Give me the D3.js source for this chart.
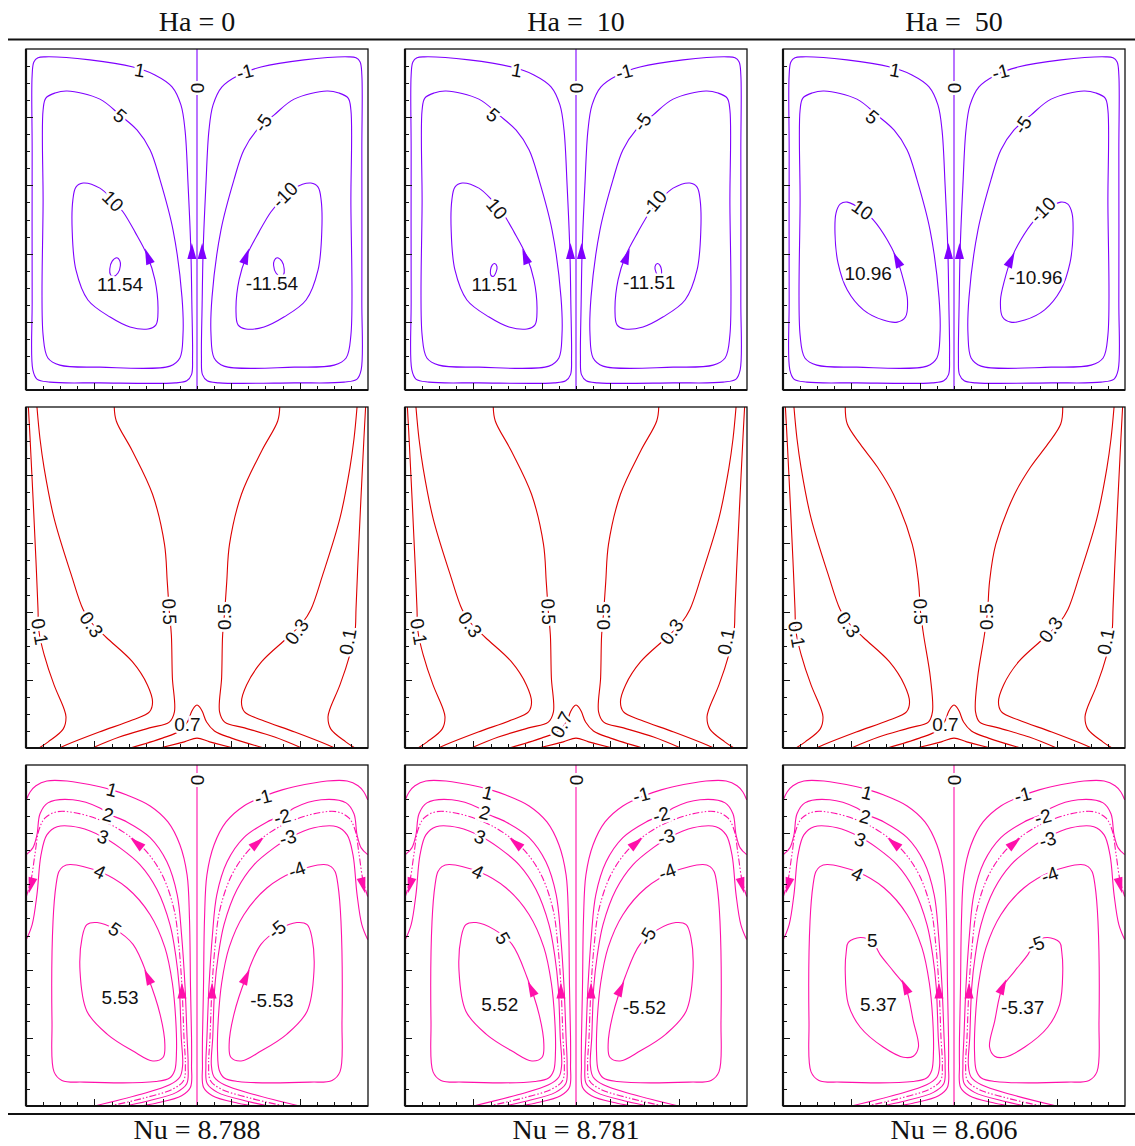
<!DOCTYPE html>
<html lang="en">
<head>
<meta charset="UTF-8">
<title>Streamlines, isotherms and heatlines</title>
<style>
  body, html { margin: 0; padding: 0; background: #fff; }
  svg { display: block; }
  .head { font-family: "Liberation Serif", "Times New Roman", serif; font-size: 28px; fill: #111; white-space: pre; }
  .clabel { font-family: "Liberation Sans", Arial, sans-serif; font-size: 19px; fill: #111;
            stroke: #fff; stroke-width: 5px; paint-order: stroke; stroke-linejoin: round; }
  .axis line { stroke: #111; shape-rendering: crispEdges; }
</style>
</head>
<body>
<svg width="1135" height="1146"></svg>
<script src="https://d3js.org/d3.v7.min.js"></script>
<script>
// ---- headings ----
const headers = ["Ha = 0", "Ha =  10", "Ha =  50"];
const nusselt = ["Nu = 8.788", "Nu = 8.781", "Nu = 8.606"];

const majorTicks = [0.2, 0.4, 0.6, 0.8];
const minorTicks = [0.05, 0.1, 0.15, 0.25, 0.3, 0.35, 0.45, 0.5, 0.55, 0.65, 0.7, 0.75, 0.85, 0.9, 0.95];

// ---- row 1: streamlines (left cell, right cell is its mirror) ----
const psiOne = [[0.056,0.977],[0.187,0.968],[0.313,0.947],[0.377,0.924],[0.427,0.889],[0.453,0.836],[0.465,0.762],[0.474,0.6],[0.482,0.41],[0.485,0.25],[0.487,0.1],[0.484,0.045],[0.47,0.027],[0.436,0.021],[0.216,0.021],[0.07,0.023],[0.032,0.032],[0.02,0.059],[0.018,0.264],[0.018,0.704],[0.018,0.924],[0.023,0.962],[0.035,0.974]];
const psiFive = [[0.085,0.871],[0.120,0.877],[0.216,0.853],[0.275,0.806],[0.325,0.762],[0.363,0.704],[0.392,0.616],[0.430,0.469],[0.456,0.273],[0.459,0.161],[0.450,0.094],[0.421,0.070],[0.216,0.067],[0.099,0.073],[0.064,0.094],[0.050,0.161],[0.050,0.557],[0.050,0.821],[0.058,0.856]];
const psiTenA = [[0.167,0.607],[0.216,0.592],[0.254,0.557],[0.284,0.522],[0.319,0.463],[0.354,0.396],[0.377,0.323],[0.386,0.235],[0.380,0.191],[0.357,0.179],[0.304,0.185],[0.246,0.214],[0.181,0.264],[0.146,0.352],[0.135,0.469],[0.137,0.557],[0.146,0.595]];
const psiTenC = [[0.188,0.551],[0.232,0.528],[0.264,0.499],[0.305,0.440],[0.334,0.381],[0.352,0.323],[0.364,0.264],[0.358,0.214],[0.334,0.199],[0.293,0.205],[0.235,0.235],[0.188,0.293],[0.161,0.372],[0.152,0.460],[0.155,0.519],[0.167,0.545]];
const psiCoreA = [[0.266,0.388],[0.274,0.38],[0.276,0.365],[0.269,0.343],[0.256,0.333],[0.247,0.338],[0.245,0.355],[0.252,0.378]];
const psiCoreB = [[0.262,0.371],[0.269,0.362],[0.266,0.345],[0.258,0.333],[0.251,0.337],[0.250,0.352],[0.255,0.366]];
const centreLine = [[0.5,0],[0.5,1]];

const psiLabels = [
  [["1",0.333,0.938,10],["5",0.275,0.804,40],["10",0.254,0.554,45],["0",0.5,0.886,-90],["11.54",0.275,0.308,0],
   ["-1",0.640,0.933,-15],["-5",0.693,0.783,-55],["-10",0.757,0.572,-45],["-11.54",0.719,0.311,0]],
  [["1",0.327,0.938,10],["5",0.257,0.806,40],["10",0.268,0.531,50],["0",0.5,0.886,-90],["11.51",0.262,0.308,0],
   ["-1",0.641,0.933,-15],["-5",0.694,0.786,-55],["-10",0.729,0.548,-50],["-11.51",0.714,0.314,0]],
  [["1",0.328,0.938,10],["5",0.261,0.800,40],["10",0.232,0.528,35],["0",0.5,0.886,-90],["10.96",0.249,0.343,0],
   ["-1",0.636,0.933,-15],["-5",0.701,0.777,-55],["-10",0.760,0.528,-45],["-10.96",0.739,0.331,0]]
];
// arrows on the left cell: [x, y, angle], mirrored for the right cell
const psiArrows = [
  [[0.357,0.39,-20],[0.485,0.405,0]],
  [[0.352,0.39,-20],[0.484,0.405,0]],
  [[0.334,0.38,-25],[0.484,0.405,0]]
];

// ---- row 2: isotherms ----
const tOne = [[0.007,1.0],[0.012,0.906],[0.021,0.724],[0.029,0.553],[0.035,0.409],[0.038,0.341],[0.053,0.274],[0.082,0.185],[0.111,0.115],[0.117,0.091],[0.109,0.056],[0.065,0.018],[0.038,0.0]];
const tThree = [[0.032,1.0],[0.041,0.906],[0.053,0.821],[0.082,0.674],[0.132,0.509],[0.167,0.406],[0.191,0.368],[0.235,0.324],[0.311,0.253],[0.355,0.185],[0.370,0.135],[0.361,0.106],[0.311,0.082],[0.214,0.047],[0.117,0.009],[0.097,0.0]];
const tFiveA = [[0.258,1.0],[0.264,0.959],[0.311,0.871],[0.370,0.744],[0.405,0.597],[0.413,0.488],[0.419,0.4],[0.425,0.332],[0.428,0.206],[0.434,0.106],[0.419,0.076],[0.361,0.059],[0.273,0.032],[0.194,0.0]];
const tFiveC = [[0.182,1.0],[0.188,0.95],[0.226,0.891],[0.276,0.824],[0.323,0.744],[0.378,0.597],[0.396,0.488],[0.402,0.4],[0.411,0.332],[0.431,0.206],[0.437,0.106],[0.425,0.076],[0.37,0.059],[0.28,0.032],[0.2,0.0]];
const tSeven = [[0.305,0],[0.399,0.029],[0.449,0.05],[0.472,0.076],[0.484,0.106],[0.492,0.12],[0.5,0.126],[0.508,0.12],[0.516,0.106],[0.528,0.076],[0.551,0.05],[0.601,0.029],[0.695,0]];
const tNine = [[0.39,0],[0.463,0.018],[0.5,0.029],[0.537,0.018],[0.607,0]];

const tLabels = [
  [["0.1",0.040,0.341,80],["0.3",0.191,0.362,55],["0.5",0.419,0.4,88],["0.7",0.472,0.068,0],["0.5",0.58,0.385,-90],["0.3",0.792,0.341,-55],["0.1",0.941,0.312,-80]],
  [["0.1",0.040,0.341,80],["0.3",0.19,0.362,55],["0.5",0.419,0.4,88],["0.7",0.458,0.068,-62],["0.5",0.58,0.385,-90],["0.3",0.78,0.341,-55],["0.1",0.939,0.312,-80]],
  [["0.1",0.040,0.333,80],["0.3",0.191,0.362,55],["0.5",0.402,0.4,88],["0.7",0.475,0.068,0],["0.5",0.595,0.385,-90],["0.3",0.783,0.347,-55],["0.1",0.944,0.312,-80]]
];

// ---- row 3: heatlines (left cell, mirrored for the right cell) ----
const hOne = [[0.001,0.898],[0.012,0.921],[0.029,0.939],[0.061,0.953],[0.120,0.953],[0.216,0.936],[0.251,0.927],[0.295,0.912],[0.363,0.880],[0.415,0.833],[0.450,0.766],[0.471,0.678],[0.478,0.55],[0.481,0.35],[0.484,0.2],[0.484,0.12],[0.481,0.055],[0.455,0.03],[0.38,0.008],[0.335,0.0]];
const hTwo = [[0.001,0.737],[0.020,0.757],[0.032,0.795],[0.041,0.857],[0.064,0.889],[0.137,0.898],[0.216,0.874],[0.240,0.857],[0.295,0.833],[0.363,0.787],[0.412,0.716],[0.442,0.620],[0.455,0.5],[0.465,0.35],[0.471,0.2],[0.474,0.12],[0.47,0.065],[0.44,0.04],[0.35,0.013],[0.29,0.0]];
const hDash = [[0.001,0.614],[0.015,0.664],[0.026,0.737],[0.038,0.810],[0.056,0.845],[0.091,0.863],[0.143,0.860],[0.216,0.839],[0.284,0.804],[0.348,0.751],[0.398,0.678],[0.433,0.576],[0.447,0.47],[0.456,0.35],[0.462,0.2],[0.466,0.12],[0.461,0.075],[0.43,0.05],[0.34,0.022],[0.245,0.0]];
const hThree = [[0.001,0.488],[0.018,0.532],[0.032,0.620],[0.044,0.737],[0.061,0.795],[0.091,0.819],[0.158,0.816],[0.225,0.789],[0.275,0.757],[0.333,0.708],[0.383,0.635],[0.421,0.532],[0.438,0.44],[0.448,0.35],[0.454,0.2],[0.458,0.12],[0.45,0.085],[0.42,0.062],[0.33,0.033],[0.2,0.0]];
const hFour = [[0.108,0.702],[0.129,0.708],[0.216,0.687],[0.295,0.640],[0.363,0.561],[0.406,0.465],[0.428,0.36],[0.438,0.25],[0.44,0.16],[0.435,0.105],[0.42,0.082],[0.38,0.072],[0.17,0.07],[0.105,0.075],[0.082,0.1],[0.076,0.249],[0.079,0.541],[0.088,0.649],[0.096,0.687]];
const hFiveA = [[0.178,0.532],[0.208,0.538],[0.260,0.518],[0.313,0.474],[0.357,0.377],[0.392,0.269],[0.406,0.181],[0.401,0.143],[0.371,0.132],[0.313,0.161],[0.237,0.211],[0.178,0.278],[0.158,0.395],[0.164,0.494]];
const hFiveC = [[0.191,0.480],[0.226,0.494],[0.261,0.482],[0.284,0.444],[0.323,0.395],[0.358,0.348],[0.381,0.249],[0.396,0.173],[0.381,0.146],[0.352,0.143],[0.293,0.173],[0.226,0.231],[0.191,0.298],[0.182,0.395],[0.185,0.453]];

const hLabels = [
  [["0",0.5,0.956,-90],["1",0.251,0.927,15],["2",0.240,0.854,15],["3",0.225,0.789,20],["4",0.216,0.687,25],["5",0.260,0.518,35],["5.53",0.275,0.319,0],
   ["-1",0.693,0.906,-15],["-2",0.749,0.848,-15],["-3",0.766,0.787,-15],["-4",0.792,0.693,-20],["-5",0.734,0.518,-40],["-5.53",0.719,0.31,0]],
  [["0",0.5,0.956,-90],["1",0.242,0.918,15],["2",0.233,0.860,15],["3",0.219,0.789,20],["4",0.213,0.687,25],["5",0.286,0.492,60],["5.52",0.277,0.298,0],
   ["-1",0.691,0.912,-15],["-2",0.749,0.854,-15],["-3",0.764,0.789,-15],["-4",0.767,0.687,-20],["-5",0.708,0.497,-60],["-5.52",0.700,0.289,0]],
  [["0",0.5,0.956,-90],["1",0.246,0.918,15],["2",0.240,0.848,15],["3",0.226,0.781,20],["4",0.217,0.680,25],["5",0.261,0.485,0],["5.37",0.279,0.298,0],
   ["-1",0.701,0.912,-15],["-2",0.760,0.848,-15],["-3",0.774,0.781,-15],["-4",0.780,0.678,-20],["-5",0.739,0.474,-20],["-5.37",0.701,0.289,0]]
];
const hArrows = [
  [[0.357,0.377,-25],[0.325,0.77,-50],[0.456,0.336,0],[0.015,0.649,195]],
  [[0.370,0.342,-25],[0.325,0.77,-50],[0.456,0.336,0],[0.015,0.649,195]],
  [[0.358,0.348,-25],[0.325,0.77,-50],[0.456,0.336,0],[0.015,0.649,195]]
];

// ---- layout ----
const svg = d3.select("svg");
const colLeft = [26, 405, 783];
const rowTop = [49, 407, 765];
const W = 342, H = 341;
const colors = ["#7f00ff", "#dd0000", "#ff10aa"];

function rowSpec(r, c) {
  if (r === 0) return {
    lines: [
      { pts: psiOne, closed: true, mirror: true },
      { pts: psiFive, closed: true, mirror: true },
      { pts: c < 2 ? psiTenA : psiTenC, closed: true, mirror: true },
      c < 2 ? { pts: c === 0 ? psiCoreA : psiCoreB, closed: true, mirror: true } : null,
      { pts: centreLine }
    ].filter(Boolean),
    labels: psiLabels[c], arrows: psiArrows[c]
  };
  if (r === 1) return {
    lines: [
      { pts: tOne, mirror: true },
      { pts: tThree, mirror: true },
      { pts: c < 2 ? tFiveA : tFiveC, mirror: true },
      { pts: tSeven },
      { pts: tNine }
    ],
    labels: tLabels[c], arrows: []
  };
  return {
    lines: [
      { pts: hOne, mirror: true },
      { pts: hTwo, mirror: true },
      { pts: hDash, mirror: true, dash: true },
      { pts: hThree, mirror: true },
      { pts: hFour, closed: true, mirror: true },
      { pts: c < 2 ? hFiveA : hFiveC, closed: true, mirror: true },
      { pts: centreLine }
    ],
    labels: hLabels[c], arrows: hArrows[c]
  };
}

function drawPanel(r, c) {
  const spec = rowSpec(r, c);
  const color = colors[r];
  const g = svg.append("g").attr("transform", `translate(${colLeft[c]},${rowTop[r]})`);
  const x = d3.scaleLinear().domain([0, 1]).range([0, W]);
  const xr = d3.scaleLinear().domain([0, 1]).range([W, 0]);
  const y = d3.scaleLinear().domain([0, 1]).range([H, 0]);

  const id = `clip-${r}-${c}`;
  g.append("clipPath").attr("id", id).append("rect").attr("width", W).attr("height", H);
  const plot = g.append("g").attr("clip-path", `url(#${id})`);

  spec.lines.forEach(l => {
    const scales = l.mirror ? [x, xr] : [x];
    scales.forEach(sx => {
      const line = d3.line()
        .x(d => sx(d[0])).y(d => y(d[1]))
        .curve(l.closed ? d3.curveCatmullRomClosed.alpha(0.5) : d3.curveCatmullRom.alpha(0.5));
      plot.append("path")
        .attr("d", line(l.pts))
        .attr("fill", "none")
        .attr("stroke", color)
        .attr("stroke-width", 1.1)
        .attr("stroke-dasharray", l.dash ? "7,2,1.5,2,1.5,2" : null);
    });
  });

  // flow direction arrows (left cell and mirrored right cell)
  spec.arrows.forEach(a => {
    [[x, 1], [xr, -1]].forEach(([sx, s]) => {
      g.append("path")
        .attr("d", "M0,-9L4.5,7L-4.5,7Z")
        .attr("transform", `translate(${sx(a[0])},${y(a[1])}) rotate(${s * a[2]})`)
        .attr("fill", color);
    });
  });

  // contour labels
  g.selectAll("text.clabel")
    .data(spec.labels)
    .enter().append("text")
    .attr("class", "clabel")
    .attr("text-anchor", "middle")
    .attr("dominant-baseline", "central")
    .attr("transform", d => `translate(${x(d[1])},${y(d[2])}) rotate(${d[3]})`)
    .text(d => d[0]);

  // inward ticks on left and bottom
  const addAxis = (axis, vals, len, tr) => {
    const a = g.append("g").attr("class", "axis").attr("transform", tr)
      .call(axis.tickValues(vals).tickSize(-len).tickFormat(""));
    a.select(".domain").remove();
  };
  addAxis(d3.axisLeft(y), minorTicks, 4, null);
  addAxis(d3.axisLeft(y), majorTicks, 7, null);
  addAxis(d3.axisBottom(x), minorTicks, 4, `translate(0,${H})`);
  addAxis(d3.axisBottom(x), majorTicks, 7, `translate(0,${H})`);

  g.append("rect").attr("width", W).attr("height", H)
    .attr("fill", "none").attr("stroke", "#111").attr("stroke-width", 1.3);
  g.append("line").attr("x1", 0).attr("x2", 0).attr("y1", 0).attr("y2", H)
    .attr("stroke", "#111").attr("stroke-width", 2.2);
  g.append("line").attr("x1", 0).attr("x2", W).attr("y1", H).attr("y2", H)
    .attr("stroke", "#111").attr("stroke-width", 2.2);
}

for (let r = 0; r < 3; r++) for (let c = 0; c < 3; c++) drawPanel(r, c);

// header / footer rules and texts
svg.append("line").attr("x1", 8).attr("x2", 1135).attr("y1", 39.5).attr("y2", 39.5)
  .attr("stroke", "#111").attr("stroke-width", 2);
svg.append("line").attr("x1", 8).attr("x2", 1135).attr("y1", 1114).attr("y2", 1114)
  .attr("stroke", "#111").attr("stroke-width", 2);

svg.selectAll("text.top").data(headers).enter().append("text")
  .attr("class", "head top").attr("text-anchor", "middle")
  .attr("x", (d, i) => colLeft[i] + W / 2).attr("y", 31)
  .text(d => d);
svg.selectAll("text.bot").data(nusselt).enter().append("text")
  .attr("class", "head bot").attr("text-anchor", "middle")
  .attr("x", (d, i) => colLeft[i] + W / 2).attr("y", 1139)
  .text(d => d);
</script>
</body>
</html>
